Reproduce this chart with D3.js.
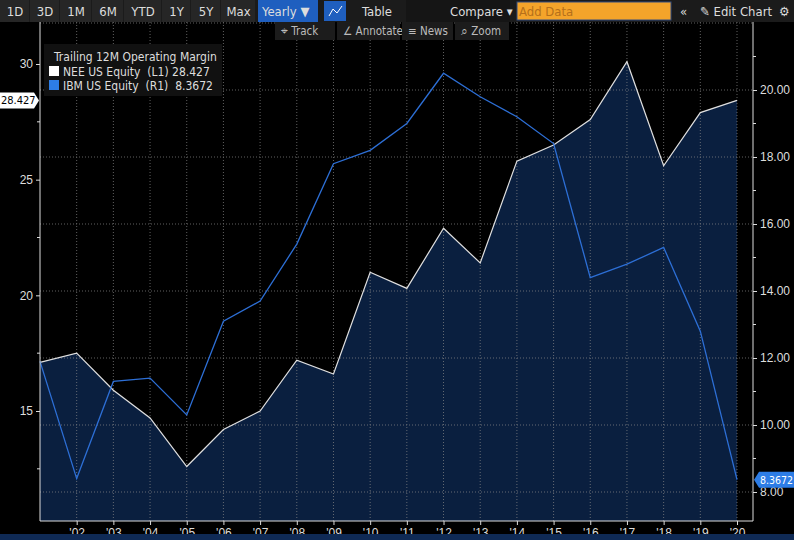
<!DOCTYPE html>
<html><head><meta charset="utf-8">
<script src="https://cdn.jsdelivr.net/npm/d3@7"></script>
<style>body{margin:0;background:#000;}svg{display:block;font-family:"Liberation Sans Narrow","DejaVu Sans Condensed",Arial,sans-serif;}</style>
</head><body><div id="chart"></div>
<script>
const years = d3.range(2001, 2021);
const nee = [17.1,17.5,15.9,14.7,12.6,14.2,15.0,17.2,16.6,21.0,20.3,22.9,21.4,25.8,26.5,27.6,30.1,25.6,27.9,28.427];
const ibm = [11.9,8.4,11.3,11.4,10.3,13.1,13.7,15.4,17.8,18.2,19.0,20.5,19.8,19.2,18.4,14.4,14.8,15.3,12.8,8.3672];
const leftTicks = [15,20,25,30];
const rightTicks = [8,10,12,14,16,18,20];
const toolbarButtons = ['1D','3D','1M','6M','YTD','1Y','5Y','Max'];

const W = 794, H = 540;
const svg = d3.select('#chart').append('svg').attr('width', W).attr('height', H);
svg.append('rect').attr('width', W).attr('height', H).attr('fill', '#000');

const x = d3.scaleLinear().domain([2001, 2020]).range([40, 737]);
const yL = d3.scaleLinear().domain([15, 30]).range([411, 64]);
const yR = d3.scaleLinear().domain([8, 20]).range([492, 90]);
const plotTop = 22, plotBottom = 521, plotRight = 753;

// NEE area
const area = d3.area().x((d, i) => x(years[i])).y0(plotBottom).y1(d => yL(d));
svg.append('path').datum(nee).attr('d', area).attr('fill', '#0a1f3f');

// grid
const grid = svg.append('g').attr('stroke', '#8a8a8a').attr('stroke-dasharray', '1,2').attr('stroke-width', 1).attr('opacity', 0.7);
years.slice(1).forEach(yr => grid.append('line').attr('x1', x(yr)).attr('x2', x(yr)).attr('y1', plotTop).attr('y2', plotBottom));
[8,10,12,14,16,18,20,22].forEach(v => grid.append('line').attr('x1', 40).attr('x2', plotRight).attr('y1', yR(v)).attr('y2', yR(v)));

svg.append('path').datum(nee).attr('d', d3.line().x((d, i) => x(years[i])).y(d => yL(d)))
  .attr('fill', 'none').attr('stroke', '#e0e0e0').attr('stroke-width', 1.2);
svg.append('path').datum(ibm).attr('d', d3.line().x((d, i) => x(years[i])).y(d => yR(d)))
  .attr('fill', 'none').attr('stroke', '#2d6fd6').attr('stroke-width', 1.3);

// axes
const axL = svg.append('g').attr('transform', 'translate(40,0)')
  .call(d3.axisLeft(yL).tickValues(leftTicks).tickSize(4).tickFormat(d3.format('d')));
const axR = svg.append('g').attr('transform', `translate(${plotRight},0)`)
  .call(d3.axisRight(yR).tickValues(rightTicks).tickSize(4).tickFormat(d3.format('.2f')));
const axB = svg.append('g').attr('transform', `translate(0,${plotBottom})`)
  .call(d3.axisBottom(x).tickValues(years.slice(1)).tickSize(4).tickFormat(d => "'" + String(d).slice(2)));
[axL, axR, axB].forEach(a => {
  a.selectAll('path,line').attr('stroke', '#ddd');
  a.selectAll('text').attr('fill', '#ddd').attr('font-size', 12);
});
axL.select('.domain').attr('d', `M-0,${plotTop}V${plotBottom}`);
axR.select('.domain').attr('d', `M0,${plotTop}V${plotBottom}`);
axB.select('.domain').attr('d', `M40,0H${plotRight}`);
// minor ticks
[17.5,22.5,27.5,12.5].forEach(v => svg.append('line').attr('x1', 37).attr('x2', 40).attr('y1', yL(v)).attr('y2', yL(v)).attr('stroke', '#ddd'));
[9,11,13,15,17,19,21].forEach(v => svg.append('line').attr('x1', plotRight).attr('x2', plotRight + 3).attr('y1', yR(v)).attr('y2', yR(v)).attr('stroke', '#ddd'));

// last value tags
const tagL = svg.append('g').attr('transform', `translate(0,${yL(nee[19])})`);
tagL.append('path').attr('d', 'M0,-8H34L39,0L34,8H0Z').attr('fill', '#fff');
tagL.append('text').attr('x', 1).attr('y', 4).attr('font-size', 11).attr('fill', '#000').text('28.427');
const tagR = svg.append('g').attr('transform', `translate(${plotRight + 1},${yR(ibm[19])})`);
tagR.append('path').attr('d', 'M0,0L5,-8H41V8H5Z').attr('fill', '#2d7de6');
tagR.append('text').attr('x', 6).attr('y', 4).attr('font-size', 10.5).attr('fill', '#fff').text('8.3672');

// legend
const lg = svg.append('g').attr('transform', 'translate(44,44)');
lg.append('rect').attr('width', 178).attr('height', 52).attr('fill', '#111');
lg.append('text').attr('x', 10).attr('y', 17).attr('fill', '#ddd').attr('font-size', 12).text('Trailing 12M Operating Margin');
lg.append('rect').attr('x', 5).attr('y', 22).attr('width', 10).attr('height', 10).attr('fill', '#fff');
lg.append('text').attr('x', 19).attr('y', 32).attr('fill', '#ddd').attr('font-size', 12).attr('xml:space', 'preserve').text('NEE US Equity  (L1) 28.427');
lg.append('rect').attr('x', 5).attr('y', 36).attr('width', 10).attr('height', 10).attr('fill', '#2d7de6');
lg.append('text').attr('x', 19).attr('y', 46).attr('fill', '#ddd').attr('font-size', 12).attr('xml:space', 'preserve').text('IBM US Equity  (R1)  8.3672');

// toolbar
svg.append('rect').attr('width', W).attr('height', 22).attr('fill', '#1b1b1b');
const tb = svg.append('g').attr('font-size', 13).attr('fill', '#ddd');
toolbarButtons.forEach((t, i) => {
  const bx = [0, 30, 60, 92, 124, 162, 191, 221][i];
  const bw = [30, 30, 32, 32, 38, 29, 30, 35][i];
  tb.append('rect').attr('x', bx).attr('y', 0).attr('width', bw - 1).attr('height', 22).attr('fill', '#262626');
  tb.append('text').attr('x', bx + bw / 2).attr('y', 16).attr('text-anchor', 'middle').text(t);
});
tb.append('rect').attr('x', 258).attr('y', 0).attr('width', 60).attr('height', 22).attr('fill', '#1f5fbf');
tb.append('text').attr('x', 262).attr('y', 16).text('Yearly ▼');
tb.append('rect').attr('x', 324).attr('y', 1).attr('width', 22).attr('height', 20).attr('fill', '#1f5fbf');
tb.append('path').attr('d', 'M329,16L333,9L337,13L342,6').attr('fill', 'none').attr('stroke', '#fff');
tb.append('text').attr('x', 362).attr('y', 16).text('Table');
tb.append('rect').attr('x', 406).attr('y', 0).attr('width', 104).attr('height', 22).attr('fill', '#151515');
tb.append('text').attr('x', 450).attr('y', 16).text('Compare ▾');
tb.append('rect').attr('x', 517).attr('y', 2).attr('width', 154).attr('height', 18).attr('fill', '#f4a42a').attr('stroke', '#334d80');
tb.append('text').attr('x', 519).attr('y', 16).attr('fill', '#b5701a').text('Add Data');
tb.append('text').attr('x', 680).attr('y', 16).text('«');
tb.append('text').attr('x', 700).attr('y', 16).text('✎ Edit Chart');
tb.append('text').attr('x', 779).attr('y', 16).text('⚙');
const tools = [['⌖ Track', 275, 61], ['∠ Annotate', 337, 64], ['≡ News', 402, 52], ['⌕ Zoom', 455, 55]];
tools.forEach(([t, tx, tw]) => {
  svg.append('rect').attr('x', tx).attr('y', 22).attr('width', tw - 1).attr('height', 18).attr('fill', '#1c1c1c');
  svg.append('text').attr('x', tx + 6).attr('y', 35).attr('font-size', 11.5).attr('fill', '#bbb').text(t);
});
svg.append('rect').attr('x', 0).attr('y', 534).attr('width', W).attr('height', 6).attr('fill', '#0f2a55');
</script></body></html>
